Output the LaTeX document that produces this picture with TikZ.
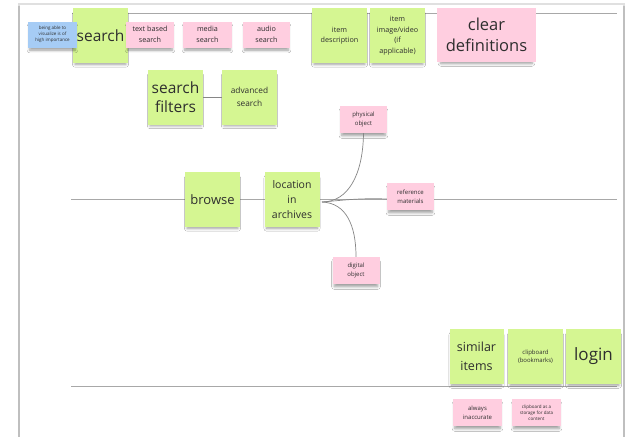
\documentclass[tikz,border=0pt]{standalone}
\usepackage{fontspec}
\setmainfont{Open Sans}
\usetikzlibrary{shadows.blur}
\definecolor{notegreen}{HTML}{D5F692}
\definecolor{notepink}{HTML}{FFCEE0}
\definecolor{noteblue}{HTML}{A6CCF5}
\definecolor{ink}{HTML}{2E2E2E}
\definecolor{rule}{HTML}{A8A8A8}
\tikzset{
  note/.style={rectangle, inner sep=1pt, align=center, text=ink,
    blur shadow={shadow xshift=0pt, shadow yshift=-4pt, shadow scale=0.92,
      shadow blur steps=6, shadow blur radius=3pt, shadow opacity=40}},
  gnote/.style={note, fill=notegreen, minimum width=55pt, minimum height=55pt},
  pnote/.style={note, fill=notepink, minimum width=48pt, minimum height=26pt},
  bnote/.style={note, fill=noteblue, minimum width=49pt, minimum height=26pt},
  fhuge/.style={font=\fontsize{15.5}{19.5}\selectfont},
  fbig/.style={font=\fontsize{13}{17}\selectfont},
  fmid/.style={font=\fontsize{10.5}{15}\selectfont},
  fsmall/.style={font=\fontsize{7.2}{10.5}\selectfont},
  fxs/.style={font=\fontsize{6}{8.5}\selectfont},
  ftiny/.style={font=\fontsize{4.5}{6}\selectfont},
  guide/.style={draw=rule, line width=0.8pt},
  link/.style={draw=rule!80!black, line width=0.7pt},
}
\begin{document}
\begin{tikzpicture}[x=1pt,y=-1pt]
\useasboundingbox (0,0) rectangle (627,437);
\fill[white] (0,0) rectangle (627,437);
% board frame
\draw[draw=black!12, line width=1.2pt] (19,437) -- (19,4) -- (624,4) -- (624,437);
\draw[draw=black!25, line width=1.4pt] (19,6) -- (19,437);
\draw[draw=black!25, line width=1.2pt] (624,6) -- (624,437);
% guide lines
\coordinate (t1) at (72,13);  \coordinate (t2) at (617,13);
\coordinate (m1) at (71,199); \coordinate (m2) at (617,199);
\coordinate (b1) at (71,386); \coordinate (b2) at (617,386);
\draw[guide] (t1) -- (t2);
\draw[guide] (m1) -- (m2);
\draw[guide] (b1) -- (b2);

% top row
\node[gnote, fhuge] (search) at (100.5,35.5) {search};
\node[bnote, ftiny] (visual) at (52.5,34.5) {being able to\\visualize is of\\high importance};
\node[pnote, fsmall] (text) at (150,34.5) {text based\\search};
\node[pnote, fsmall, minimum width=49pt] (media) at (207.5,34.5) {media\\search};
\node[pnote, fsmall, minimum width=47pt] (audio) at (266.5,34.5) {audio\\search};
\node[gnote, fsmall] (desc) at (339.5,35.5) {item\\description};
\node[gnote, fsmall] (image) at (397.5,35.5) {item\\image/video\\(if\\applicable)};
\node[pnote, minimum width=99pt, minimum height=54pt, font=\fontsize{16.5}{21}\selectfont] (clear) at (486.5,35) {clear\\definitions};

% search filters
\node[gnote, fhuge] (filters) at (175.5,97) {search\\filters};
\node[gnote, font=\fontsize{8.3}{13}\selectfont] (adv) at (249.5,97) {advanced\\search};
\draw[link] (filters) -- (adv);

% browse row
\node[pnote, fxs, minimum width=47pt, minimum height=27pt] (phys) at (363.5,119.5) {physical\\object};
\node[pnote, fxs, minimum width=47pt, minimum height=27pt] (ref) at (410.5,196.5) {reference\\materials};
\node[pnote, fxs, minimum width=47pt, minimum height=27pt] (dig) at (356,270.5) {digital\\object};
\node[gnote, fbig] (browse) at (212.5,199.5) {browse};
\node[gnote, fmid] (loc) at (292,199.5) {location\\in\\archives};
\coordinate (fan) at (322,202);
\draw[link] (fan) .. controls (348,202) and (363,175) .. (phys.south);
\draw[link] (fan) .. controls (345,200) and (360,198) .. (ref.west |- 0,199);
\draw[link] (fan) .. controls (346,203) and (356,225) .. (dig.north);

% bottom row
\node[gnote, font=\fontsize{12.5}{19}\selectfont, minimum width=54pt] (similar) at (476.5,356.5) {similar\\items};
\node[gnote, fxs] (clip) at (535.5,356.5) {clipboard\\(bookmarks)};
\node[gnote, font=\fontsize{17}{20}\selectfont] (login) at (593.5,356.5) {login};
\node[pnote, fxs, minimum width=49pt, minimum height=27pt] (always) at (477.5,412.5) {always\\inaccurate};
\node[pnote, ftiny, minimum width=49pt, minimum height=27pt] (storage) at (536.5,412.5) {clipboard as a\\storage for data\\content};
\end{tikzpicture}
\end{document}
